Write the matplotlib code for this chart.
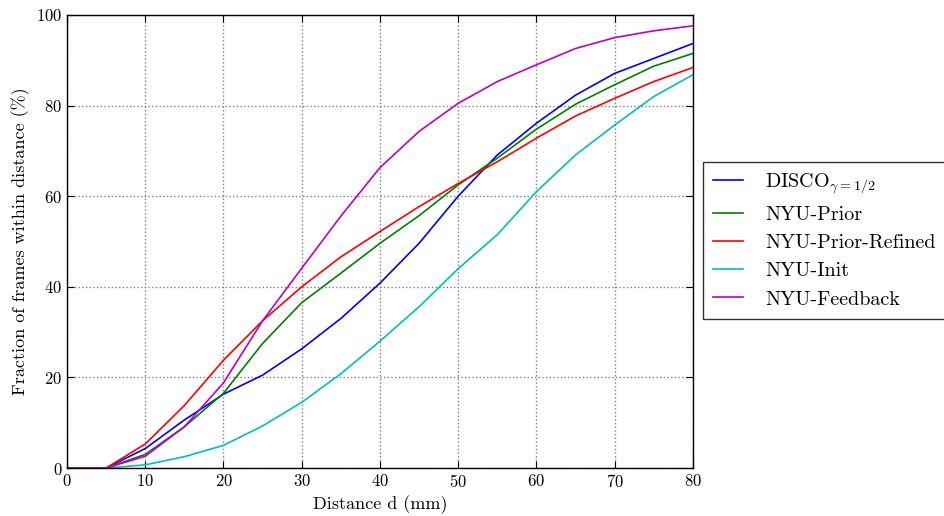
import numpy as np
import matplotlib
matplotlib.use("Agg")
import matplotlib.pyplot as plt

# distances (mm)
dist = [0, 5, 10, 15, 20, 25, 30, 35, 40, 45, 50, 55, 60, 65, 70, 75, 80]

# fraction of frames within distance (%)
disco = [0, 0, 4.3, 10.6, 16.3, 20.5, 26.3, 33.0, 40.8, 49.6, 60.0, 69.1, 76.1, 82.3, 87.1, 90.4, 93.7]
nyu_prior = [0, 0, 3.0, 9.1, 16.5, 27.5, 36.5, 43.0, 49.6, 55.7, 62.5, 68.4, 74.8, 80.3, 84.6, 88.7, 91.5]
nyu_prior_ref = [0, 0, 5.3, 13.8, 23.8, 32.5, 40.0, 46.6, 52.2, 57.7, 62.8, 67.6, 72.8, 77.7, 81.6, 85.3, 88.4]
nyu_init = [0, 0, 0.7, 2.5, 5.0, 9.3, 14.5, 20.8, 28.0, 35.6, 44.0, 51.5, 61.0, 69.1, 75.7, 82.0, 86.8]
nyu_feedback = [0, 0, 2.6, 9.1, 18.8, 32.5, 44.1, 55.6, 66.3, 74.3, 80.5, 85.3, 89.0, 92.6, 95.0, 96.5, 97.6]

labels = [r'DISCO$_{\gamma=1/2}$', 'NYU-Prior', 'NYU-Prior-Refined', 'NYU-Init', 'NYU-Feedback']
colors = ['b', 'g', 'r', 'c', 'm']

plt.rcParams['font.family'] = 'serif'
plt.rcParams['font.serif'] = ['cmr10', 'DejaVu Serif']
plt.rcParams['mathtext.fontset'] = 'cm'
plt.rcParams['axes.formatter.use_mathtext'] = True
plt.rcParams['xtick.direction'] = 'in'
plt.rcParams['ytick.direction'] = 'in'
plt.rcParams['xtick.top'] = True
plt.rcParams['ytick.right'] = True

fig = plt.figure(figsize=(9.44, 5.16), dpi=100)
ax = fig.add_axes([0.071, 0.093, 0.663, 0.878])

series = [disco, nyu_prior, nyu_prior_ref, nyu_init, nyu_feedback]
for s, lab, c in zip(series, labels, colors):
    ax.plot(dist, s, color=c, lw=1.2, label=lab)

ax.set_xlim(0, 80)
ax.set_ylim(0, 100)
ax.set_xticks(np.arange(0, 81, 10))
ax.set_yticks(np.arange(0, 101, 20))
ax.tick_params(labelsize=12, length=5, width=0.8)
ax.grid(True, linestyle=':', color='gray', lw=1)
ax.set_xlabel('Distance d (mm)', fontsize=13)
ax.set_ylabel('Fraction of frames within distance (%)', fontsize=13)
for sp in ax.spines.values():
    sp.set_linewidth(1.0)

# legend sits outside the axes on the right
leg = ax.legend(loc='center left', bbox_to_anchor=(1.016, 0.503), borderaxespad=0,
                fontsize=14.5, frameon=True, fancybox=False, edgecolor='black',
                handlelength=1.5, handletextpad=1.1, borderpad=0.5,
                labelspacing=0.5)
leg.get_frame().set_linewidth(1.0)

fig.savefig('out.png', dpi=100)
